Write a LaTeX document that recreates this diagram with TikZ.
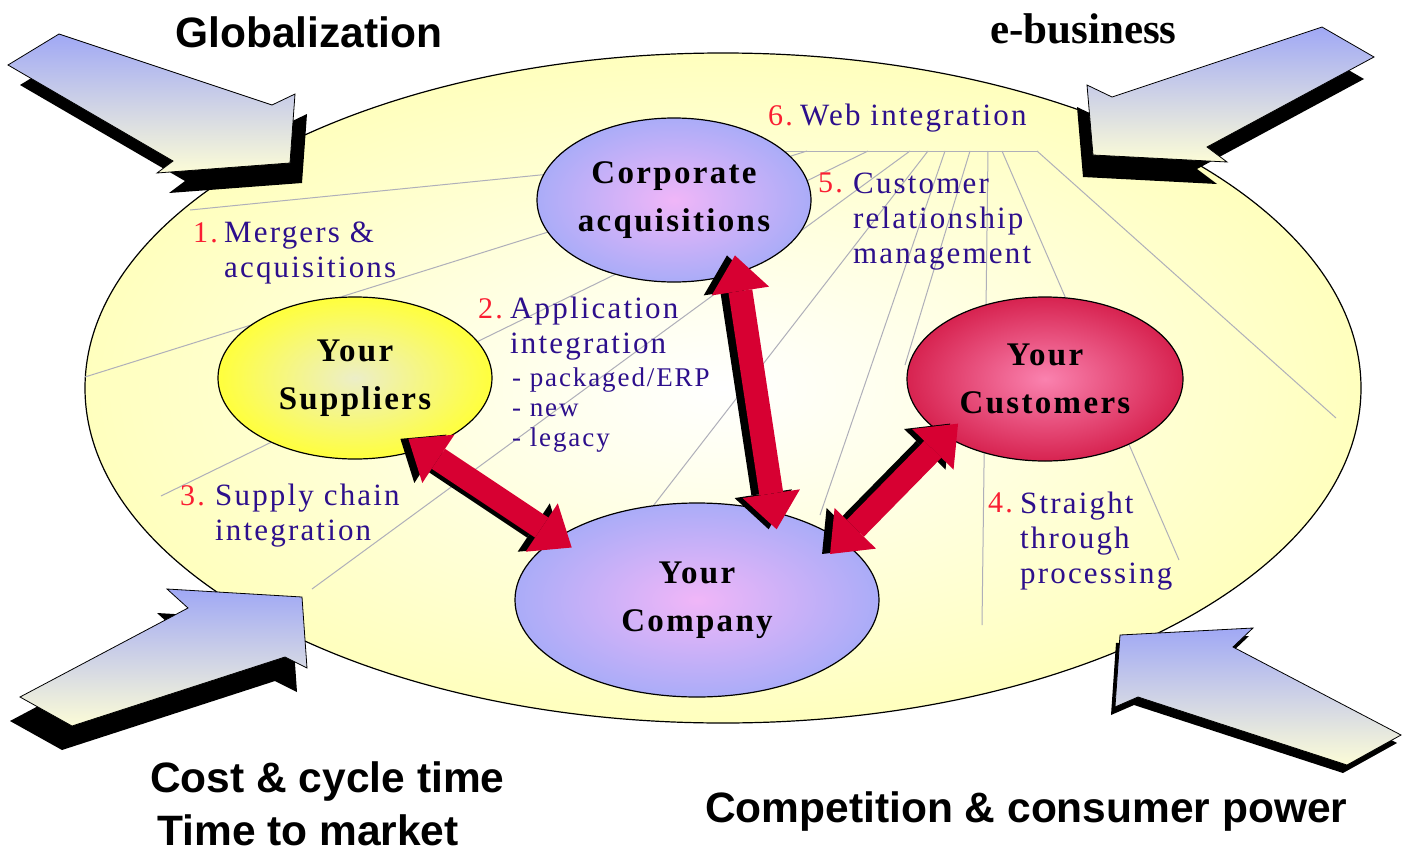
\documentclass[tikz,border=0pt]{standalone}
\usepackage{fontspec}
\setmainfont{Liberation Serif}
\newfontfamily\headfont{Liberation Sans}
\newfontfamily\lblfont[LetterSpace=7]{Liberation Serif}
\usetikzlibrary{shapes.geometric,arrows.meta}
\definecolor{lblblue}{RGB}{45,15,140}
\definecolor{numred}{RGB}{250,30,50}
\definecolor{linkred}{RGB}{215,0,50}
\definecolor{arrblue}{RGB}{160,168,245}
\definecolor{arrcream}{RGB}{252,252,215}
\definecolor{webyellow}{RGB}{255,255,190}
\definecolor{webline}{RGB}{175,175,185}
\definecolor{lilac}{RGB}{240,182,248}
\definecolor{periwinkle}{RGB}{170,172,248}
\definecolor{paleyellow}{RGB}{236,238,200}
\definecolor{sunyellow}{RGB}{255,255,60}
\definecolor{rosepink}{RGB}{250,130,175}
\definecolor{crimson}{RGB}{215,35,80}

\begin{document}
\begin{tikzpicture}[x=1pt, y=-1pt, every node/.style={inner sep=0pt},
  head/.style={anchor=base west, font=\headfont\bfseries\fontsize{42.5}{56}\selectfont},
  headserif/.style={anchor=base west, font=\bfseries\fontsize{43}{56}\selectfont},
  lbl/.style={anchor=base west, align=left, text=lblblue, font=\lblfont\fontsize{31}{35}\selectfont},
  sublbl/.style={anchor=base west, align=left, text=lblblue, font=\lblfont\fontsize{27}{30}\selectfont},
  num/.style={anchor=base west, text=numred, font=\lblfont\fontsize{30}{35}\selectfont},
  org/.style={ellipse, draw=black, line width=1.2pt, align=center,
    font=\lblfont\bfseries\fontsize{33}{48}\selectfont},
  field/.style={ellipse, draw=black, line width=1.2pt, minimum width=1276pt,
    minimum height=670pt, inner color=white, outer color=webyellow},
  webline/.style={draw=webline, line width=1pt},
  bigarrow/.style={draw=black, line width=0.8pt, top color=arrblue, bottom color=arrcream},
  link/.style={line width=24pt, draw=linkred, shorten <=-18pt, shorten >=-18pt,
    {Triangle[width=58pt,length=36pt,line width=0pt]}-{Triangle[width=58pt,length=36pt,line width=0pt]}}]
  \useasboundingbox (0,0) rectangle (1409,854);

  % playing field
  \node [field] (field) at (723,388) {};

  % web of lines
  \draw [webline] (780,151) -- (1038,151);
  \foreach \xa/\xb/\yb in {780/190/210, 807/85/377, 868/161/496, 910/312/589,
      928/650/510, 945/820/515, 970/905/365, 988/982/625, 1002/1179/560, 1037/1336/418}
    \draw [webline] (\xa,151) -- (\xb,\yb);

  % players
  \node [org, minimum width=274pt, minimum height=164pt, inner color=lilac, outer color=periwinkle]
    (corp) at (674,200) {Corporate\\acquisitions};
  \node [org, minimum width=274pt, minimum height=162pt, inner color=paleyellow, outer color=sunyellow]
    (sup) at (355,378) {Your\\Suppliers};
  \node [org, minimum width=276pt, minimum height=164pt, inner color=rosepink, outer color=crimson]
    (cust) at (1045,379) {Your\\Customers};
  \node [org, minimum width=364pt, minimum height=194pt, inner color=lilac, outer color=periwinkle]
    (comp) at (697,600) {Your\\Company};

  % links
  \foreach \a/\b in {sup.-46/comp.156, corp.-49/comp.49, cust.-150/comp.22} {
    \draw [link, draw=black, transform canvas={xshift=-8pt}] (\a) -- (\b);
    \draw [link] (\a) -- (\b);
  }

  % forces
  \fill [black, shift={(12,20)}] (59,34) -- (272,105) -- (295,94) -- (290,163)
    -- (157,173) -- (173,161) -- (8,65) -- cycle;
  \path [bigarrow] (59,34) -- (272,105) -- (295,94) -- (290,163)
    -- (157,173) -- (173,161) -- (8,65) -- cycle;
  \fill [black, shift={(-10,22)}] (1322,27) -- (1374,57) -- (1207,147) -- (1227,162)
    -- (1093,155) -- (1087,85) -- (1112,97) -- cycle;
  \path [bigarrow] (1322,27) -- (1374,57) -- (1207,147) -- (1227,162)
    -- (1093,155) -- (1087,85) -- (1112,97) -- cycle;
  \fill [black, shift={(-10,24)}] (20,697) -- (188,608) -- (167,589) -- (302,597)
    -- (307,668) -- (285,657) -- (72,726) -- cycle;
  \path [bigarrow] (20,697) -- (188,608) -- (167,589) -- (302,597)
    -- (307,668) -- (285,657) -- (72,726) -- cycle;
  \fill [black, shift={(-4,8)}] (1120,635) -- (1253,628) -- (1233,647) -- (1401,735)
    -- (1347,765) -- (1138,697) -- (1115,707) -- cycle;
  \path [bigarrow] (1120,635) -- (1253,628) -- (1233,647) -- (1401,735)
    -- (1347,765) -- (1138,697) -- (1115,707) -- cycle;

  % titles
  \node [head] (tglob) at (175,47) {Globalization};
  \node [headserif] (tebiz) at (990,43) {e-business};
  \node [head] (tcost) at (150,792) {Cost \& cycle time};
  \node [head] (ttime) at (157,845) {Time to market};
  \node [head] (tcomp) at (705,822) {Competition \& consumer power};

  % labels (anchored at the last line)
  \node [num] (n1) at (193,242) {1.};
  \node [lbl] (t1) at (224,277) {Mergers \&\\acquisitions};
  \node [num] (n2) at (478,318) {2.};
  \node [lbl] (t2) at (510,353) {Application\\integration};
  \node [sublbl] (t2b) at (512,446) {- packaged/ERP\\- new\\- legacy};
  \node [num] (n3) at (180,505) {3.};
  \node [lbl] (t3) at (215,540) {Supply chain\\integration};
  \node [num] (n4) at (988,512) {4.};
  \node [lbl] (t4) at (1020,583) {Straight\\through\\processing};
  \node [num] (n5) at (818,192) {5.};
  \node [lbl] (t5) at (853,263) {Customer\\relationship\\management};
  \node [num] (n6) at (768,125) {6.};
  \node [lbl] (t6) at (800,125) {Web integration};
\end{tikzpicture}
\end{document}
